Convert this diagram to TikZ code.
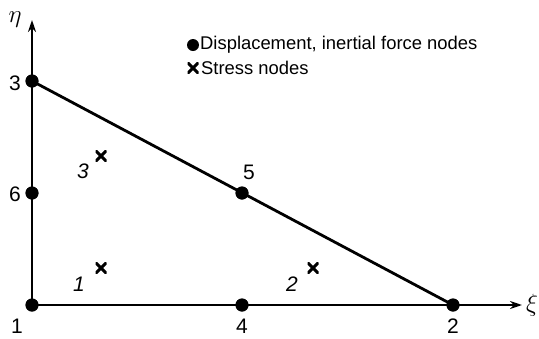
\documentclass[tikz,border=0pt]{standalone}
\usepackage{fontspec}
\setmainfont{Liberation Sans}
\usetikzlibrary{arrows.meta}
\begin{document}
\begin{tikzpicture}[x=1pt,y=-1pt,
  edge/.style={line width=2.8pt},
  axis/.style={line width=2.8pt,-{Stealth[length=12pt,width=8pt]}},
  dispnode/.style={circle,fill=black,inner sep=0pt,minimum size=13pt},
  crossmark/.style={inner sep=0pt,minimum size=11pt,path picture={
     \draw[line width=3pt] (path picture bounding box.south west) -- (path picture bounding box.north east)
       (path picture bounding box.north west) -- (path picture bounding box.south east);}},
  lbl/.style={font=\fontsize{21}{24}\selectfont,inner sep=0pt},
  ilbl/.style={font=\fontsize{21}{24}\selectfont\itshape,inner sep=0pt},
  legtxt/.style={font=\fontsize{18.4}{21}\selectfont,inner sep=0pt,anchor=west}]
\useasboundingbox (0,0) rectangle (539,338);
% nodes
\node[dispnode] (n1) at (32,305) {};
\node[dispnode] (n2) at (453,305) {};
\node[dispnode] (n3) at (32,81) {};
\node[dispnode] (n4) at (242,305) {};
\node[dispnode] (n5) at (242,193) {};
\node[dispnode] (n6) at (32,193) {};
\coordinate (etaend) at (32,20);
\coordinate (xiend) at (522,305);
% axes
\draw[axis] (n1.center) -- (etaend);
\draw[axis] (n1.center) -- (xiend);
% hypotenuse
\draw[edge] (n3.center) -- (n2.center);
% redraw dots on top
\foreach \n in {n1,n2,n3,n4,n5,n6} \fill (\n) circle (6.5pt);
% stress nodes
\node[crossmark] (s3) at (101,156) {};
\node[crossmark] (s1) at (101,268) {};
\node[crossmark] (s2) at (313,268) {};
% labels
\node[lbl] (l1) at (17,326) {1};
\node[lbl] (l4) at (242,326) {4};
\node[lbl] (l2) at (453,326) {2};
\node[lbl] (l3) at (15,83) {3};
\node[lbl] (l6) at (15,194) {6};
\node[lbl] (l5) at (249,172) {5};
\node[ilbl] (i3) at (83,171) {3};
\node[ilbl] (i1) at (79,284) {1};
\node[ilbl] (i2) at (292,284) {2};
\node[inner sep=0pt,font=\fontsize{26}{28}\selectfont] (eta) at (15,20) {$\eta$};
\node[inner sep=0pt,font=\fontsize{26}{28}\selectfont] (xi) at (532,305) {$\xi$};
% legend
\node[dispnode,minimum size=12pt] (legdot) at (193,45) {};
\node[crossmark,minimum size=11pt] (legx) at (193,68) {};
\node[legtxt] (legt1) at (200,45) {Displacement, inertial force nodes};
\node[legtxt] (legt2) at (201,68) {Stress nodes};
\end{tikzpicture}
\end{document}
